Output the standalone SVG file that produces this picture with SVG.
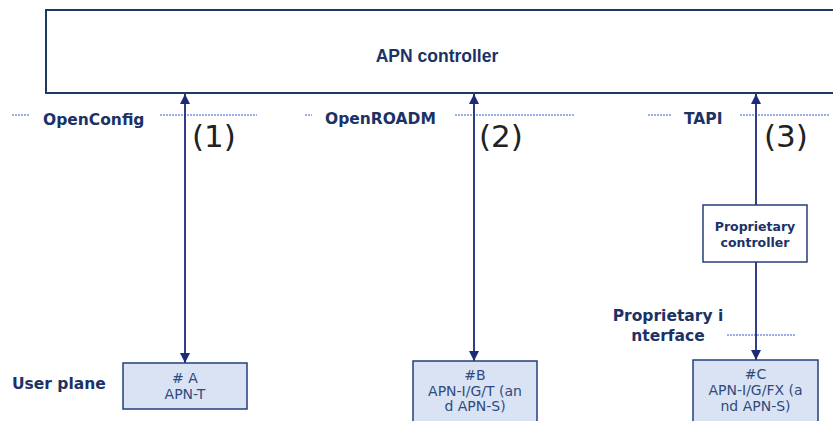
<svg xmlns="http://www.w3.org/2000/svg" width="833" height="421" viewBox="0 0 833 421">
<defs>
<marker id="ah" viewBox="0 0 10 10" refX="10" refY="5" markerWidth="10" markerHeight="10" markerUnits="userSpaceOnUse" orient="auto-start-reverse">
<path d="M0,0 L10,5 L0,10 z" fill="#1c2a78"/>
</marker>
<style>
.lbl{font-family:"DejaVu Sans",Verdana,sans-serif;font-weight:bold;fill:#1b3266}
.node{fill:#dae3f3;stroke:#233f7a;stroke-width:1.5}
.ntext{font-family:"DejaVu Sans",Verdana,sans-serif;font-size:14px;fill:#2f4a80;text-anchor:middle}
.num{font-family:"DejaVu Sans",sans-serif;font-size:31px;fill:#222}
.dot{stroke:#3a5ad8;stroke-width:1;stroke-dasharray:2 1;fill:none}
.conn{stroke:#1c2a78;stroke-width:1.8;fill:none}
</style>
</defs>
<rect width="833" height="421" fill="#ffffff"/>
<g id="apn-controller">
<rect x="46" y="10" width="800" height="83" fill="#ffffff" stroke="#1f3864" stroke-width="2"/>
<text x="437" y="62" class="lbl" style="font-family:'Liberation Sans',Arial,sans-serif;font-size:17.5px" text-anchor="middle">APN controller</text>
</g>
<g id="interface-labels">
<line class="dot" x1="12" y1="115" x2="30" y2="115"/>
<line class="dot" x1="160" y1="115" x2="257" y2="115"/>
<text x="43" y="124.5" class="lbl" font-size="15.5">OpenConfig</text>
<line class="dot" x1="305" y1="115" x2="312" y2="115"/>
<line class="dot" x1="455" y1="115" x2="575" y2="115"/>
<text x="325" y="124" class="lbl" font-size="15.5">OpenROADM</text>
<line class="dot" x1="648" y1="115" x2="672" y2="115"/>
<line class="dot" x1="740" y1="115" x2="830" y2="115"/>
<text x="684" y="124" class="lbl" font-size="15.5">TAPI</text>
<text x="668" y="320.5" class="lbl" font-size="15.5" text-anchor="middle">Proprietary i</text>
<text x="668" y="341" class="lbl" font-size="15.5" text-anchor="middle">nterface</text>
<line class="dot" x1="727" y1="335" x2="795" y2="335"/>
<text x="12" y="389" class="lbl" font-size="15.5">User plane</text>
</g>
<g id="numbers">
<text x="192" y="147" class="num">(1)</text>
<text x="479" y="147" class="num">(2)</text>
<text x="764" y="147" class="num">(3)</text>
</g>
<g id="connectors">
<line class="conn" x1="185" y1="94" x2="185" y2="363" marker-start="url(#ah)" marker-end="url(#ah)"/>
<line class="conn" x1="474" y1="94" x2="474" y2="361" marker-start="url(#ah)" marker-end="url(#ah)"/>
<line class="conn" x1="756" y1="94" x2="756" y2="205" marker-start="url(#ah)"/>
<line class="conn" x1="756" y1="262" x2="756" y2="360" marker-end="url(#ah)"/>
</g>
<g id="proprietary-controller">
<rect x="703" y="205" width="104" height="57" fill="#ffffff" stroke="#233f7a" stroke-width="1.5"/>
<text x="755" y="231" class="lbl" font-size="12.5" text-anchor="middle">Proprietary</text>
<text x="755" y="247" class="lbl" font-size="12.5" text-anchor="middle">controller</text>
</g>
<g id="node-a">
<rect class="node" x="123" y="363" width="124" height="46"/>
<text class="ntext" x="185" y="383"># A</text>
<text class="ntext" x="185" y="398.5">APN-T</text>
</g>
<g id="node-b">
<rect class="node" x="413" y="361" width="124" height="70"/>
<text class="ntext" x="475" y="380">#B</text>
<text class="ntext" x="475" y="395.5">APN-I/G/T (an</text>
<text class="ntext" x="475" y="411">d APN-S)</text>
</g>
<g id="node-c">
<rect class="node" x="693" y="360" width="125" height="70"/>
<text class="ntext" x="755.5" y="379">#C</text>
<text class="ntext" x="755.5" y="395">APN-I/G/FX (a</text>
<text class="ntext" x="755.5" y="411">nd APN-S)</text>
</g>
</svg>
